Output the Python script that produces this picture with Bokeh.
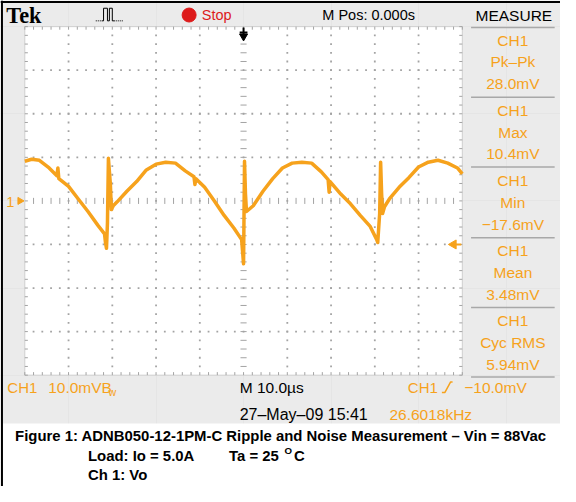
import numpy as np
from bokeh.plotting import figure
from bokeh.models import Range1d, Label
from bokeh.embed import file_html
from bokeh.resources import INLINE

# ---------------- data ----------------
t_us = [-50.00, -48.44, -46.67, -44.44, -42.67, -42.44, -42.22, -40.00, -37.78, -35.56,
        -33.33, -31.78, -31.56, -31.33, -31.11, -30.89, -30.44, -30.22, -29.78, -28.89,
        -26.67, -24.44, -22.22, -20.00, -17.78, -15.56, -13.33, -11.33, -11.11, -10.89,
        -8.89, -6.67, -4.44, -2.22, -0.44, 0.00, 0.22, 0.44, 0.67, 2.22,
        4.44, 6.67, 8.89, 11.11, 13.33, 15.56, 17.78, 19.33, 19.56, 19.78,
        22.22, 24.44, 26.67, 28.89, 30.44, 30.67, 31.11, 31.33, 31.56, 31.78,
        32.22, 33.33, 35.56, 37.78, 40.00, 42.22, 44.44, 46.67, 48.89, 50.00]
v_mV = [9.11, 9.56, 9.33, 7.56, 5.78, 7.56, 5.11, 3.33, 0.44, -2.44,
        -5.56, -7.56, -9.56, -10.89, -5.11, 9.78, 3.78, -2.00, -1.11, -0.22,
        2.22, 4.44, 7.11, 8.44, 8.89, 8.67, 6.89, 5.56, 3.78, 5.11,
        3.11, 0.00, -3.33, -6.22, -8.89, -14.44, 9.11, 1.56, -2.44, -1.11,
        2.22, 5.11, 7.56, 8.67, 8.89, 8.67, 6.67, 4.89, 2.00, 4.44,
        1.56, -0.67, -3.33, -5.78, -8.89, -9.56, -2.89, 8.89, 1.56, -2.89,
        -1.33, 0.44, 3.11, 5.33, 7.78, 8.89, 9.33, 8.67, 7.56, 6.22]

meas_names = ["Pk\u2013Pk", "Max", "Min", "Mean", "Cyc RMS"]
meas_values = ["28.0mV", "10.4mV", "\u221217.6mV", "3.48mV", "5.94mV"]
volts_per_div = "10.0mV"
time_per_div = "M 10.0\u00b5s"
trigger_level_mV = -10.0
trigger_text = "\u221210.0mV"
freq_text = "26.6018kHz"
date_text = "27\u2013May\u201309 15:41"
mpos_text = "M Pos: 0.000s"
caption1 = "Figure 1: ADNB050-12-1PM-C Ripple and Noise Measurement \u2013 Vin = 88Vac"
caption2a = "Load: Io = 5.0A"
caption2b = "Ta = 25 "
caption3 = "Ch 1: Vo"

# ---------------- styling ----------------
ORANGE = "#f6a21c"
GRAY = "#ebebeb"
GRID = "#a3a3a3"
RED = "#dd1a1a"
SANS = "Liberation Sans"
K = 0.97

def X(px):  # reference pixel -> microseconds
    return (px - 250) / 4.5

def Y(py):  # reference pixel -> millivolts
    return (207 - py) / 4.5

def fs(px):
    return f"{px * K:.1f}px"

p = figure(width=560, height=486, x_range=Range1d(X(0), X(576)), y_range=Range1d(Y(502), Y(0)),
           output_backend="svg", toolbar_location=None, x_axis_location=None, y_axis_location=None,
           min_border=0, background_fill_color=GRAY, border_fill_color=GRAY, outline_line_color=None)
p.min_border_left = p.min_border_right = p.min_border_top = p.min_border_bottom = 0

# screen area + caption area
p.quad(left=X(25), right=X(475), top=Y(27), bottom=Y(387), fill_color="white", line_color="#cfcfcf", line_width=1)
p.quad(left=X(0), right=X(577), top=Y(437), bottom=Y(503), fill_color="white", line_color=None)
p.line([X(1.5), X(1.5)], [Y(0), Y(502)], line_color="black", line_width=2)
p.line([X(0), X(576)], [Y(1.5), Y(1.5)], line_color="black", line_width=2)

# graticule dots
major_t = [-40, -30, -20, -10, 10, 20, 30, 40]
major_v = [-30, -20, -10, 10, 20, 30]
minor_t = np.arange(-50, 50.01, 2)
minor_v = np.arange(-40, 40.01, 2)
dx = [t for t in major_t for _ in minor_v[1:-1]]
dy = [v for _ in major_t for v in minor_v[1:-1]]
dx += [t for _ in major_v for t in minor_t[1:-1]]
dy += [v for v in major_v for _ in minor_t[1:-1]]
p.scatter(dx, dy, marker="square", size=1.8, fill_color=GRID, line_color=None)

# center crosshair ticks
L = 0.7
p.segment(x0=minor_t[1:-1], y0=-L, x1=minor_t[1:-1], y1=L, line_color=GRID, line_width=1)
p.segment(x0=-L, y0=minor_v[1:-1], x1=L, y1=minor_v[1:-1], line_color=GRID, line_width=1)
# edge ticks
p.segment(x0=minor_t, y0=40, x1=minor_t, y1=40 - L, line_color=GRID, line_width=1)
p.segment(x0=minor_t, y0=-40, x1=minor_t, y1=-40 + L, line_color=GRID, line_width=1)
p.segment(x0=-50, y0=minor_v, x1=-50 + L, y1=minor_v, line_color=GRID, line_width=1)
p.segment(x0=50, y0=minor_v, x1=50 - L, y1=minor_v, line_color=GRID, line_width=1)

# waveform
p.line(t_us, v_mV, line_color=ORANGE, line_width=3.5, line_join="round")

# markers: trigger position, channel ground, trigger level
p.segment(x0=[0, X(246)], y0=[Y(28), Y(33)], x1=[0, X(254)], y1=[Y(38), Y(33)], line_color="black", line_width=2)
p.scatter([0], [Y(37)], marker="inverted_triangle", size=8, fill_color="black", line_color="black")
p.scatter([X(20)], [0], marker="triangle", angle=-np.pi / 2, size=7, fill_color=ORANGE, line_color=ORANGE)
p.scatter([X(466)], [trigger_level_mV], marker="triangle", angle=np.pi / 2, size=9, fill_color=ORANGE, line_color=ORANGE)
p.segment(x0=X(466), y0=trigger_level_mV, x1=X(474), y1=trigger_level_mV, line_color=ORANGE, line_width=2)

def lab(text, px, py, size, color="black", align="left", font=SANS, style="normal"):
    p.add_layout(Label(x=X(px), y=Y(py), text=text, text_font_size=fs(size), text_color=color,
                       text_align=align, text_baseline="middle", text_font=font, text_font_style=style))

lab("1", 6, 208, 15, ORANGE)

# header
lab("Tek", 6, 15, 23, "black", font="Liberation Serif", style="bold")
p.line([X(98), X(104)], [Y(21), Y(21)], line_color="black", line_width=1, line_dash="1 1")
p.line([X(104), X(106), X(106), X(110), X(110), X(112), X(112), X(115), X(115), X(117)],
       [Y(21), Y(21), Y(8), Y(8), Y(21), Y(21), Y(8), Y(8), Y(21), Y(21)], line_color="black", line_width=1)
p.line([X(117), X(126)], [Y(21), Y(21)], line_color="black", line_width=1, line_dash="1 1")
p.scatter([X(194)], [Y(15)], marker="circle", size=14, fill_color=RED, line_color=RED)
lab("Stop", 207, 15, 15, RED)
lab(mpos_text, 331, 15, 15, "black")
lab("MEASURE", 528, 15, 16, "black", align="center")

# measurement panel
seps = [28, 100, 172, 245, 317, 389]
for s in seps:
    p.line([X(484), X(570)], [Y(s), Y(s)], line_color="#a8a8a8", line_width=1.5)
for i, (nm, val) in enumerate(zip(meas_names, meas_values)):
    base = 41 + 72.5 * i
    lab("CH1", 527, base, 16, ORANGE, align="center")
    lab(nm, 527, base + 22.5, 16, ORANGE, align="center")
    lab(val, 527, base + 45, 16, ORANGE, align="center")

# bottom status rows
lab("CH1", 7, 400, 15.5, ORANGE)
lab(volts_per_div + "B", 49, 400, 16, ORANGE)
lab("w", 111, 404, 11, ORANGE)
lab(time_per_div, 246, 400, 16, "black")
lab("CH1", 419, 400, 15.5, ORANGE)
p.line([X(454), X(457), X(463), X(465)], [Y(405), Y(405), Y(394), Y(394)], line_color=ORANGE, line_width=1.5)
lab(trigger_text, 477, 400, 16, ORANGE)
lab(date_text, 246, 428, 16.5, "black")
lab(freq_text, 400, 428, 16, ORANGE)

# caption
lab(caption1, 15, 450, 15.4, "black", style="bold")
lab(caption2a, 90, 470, 15.4, "black", style="bold")
lab(caption2b, 235, 470, 15.4, "black", style="bold")
lab("O", 292, 465, 10, "black", style="bold")
lab("C", 302, 470, 15.4, "black", style="bold")
lab(caption3, 90, 490, 15.4, "black", style="bold")

open("out.html", "w").write(file_html(p, INLINE))
